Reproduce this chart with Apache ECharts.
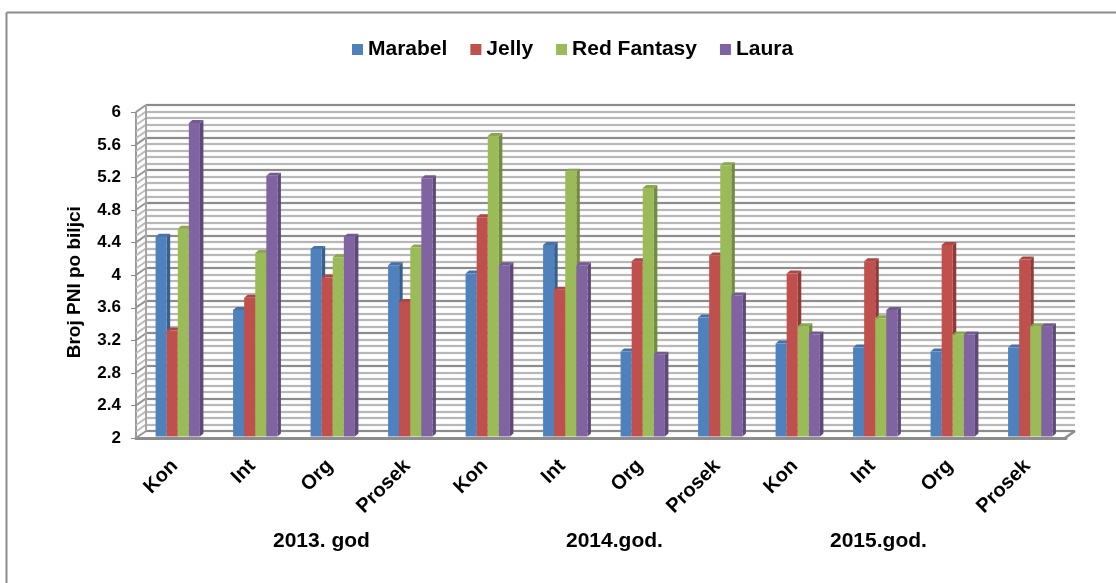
<!DOCTYPE html>
<html><head><meta charset="utf-8">
<style>html,body{margin:0;padding:0;background:#fff}#c{width:1116px;height:583px}</style>
<script src="https://cdn.jsdelivr.net/npm/echarts@6/dist/echarts.min.js"></script>
</head><body><div id="c"></div>
<script>
const categories = ['Kon','Int','Org','Prosek','Kon','Int','Org','Prosek','Kon','Int','Org','Prosek'];
const marabel    = [4.46,3.56,4.31,4.11,4.01,4.36,3.05,3.47,3.15,3.10,3.05,3.10];
const jelly      = [3.31,3.71,3.96,3.66,4.70,3.81,4.16,4.23,4.01,4.16,4.36,4.18];
const redFantasy = [4.56,4.26,4.21,4.33,5.70,5.26,5.06,5.34,3.36,3.46,3.26,3.36];
const laura      = [5.86,5.21,4.46,5.18,4.11,4.11,3.01,3.74,3.26,3.56,3.26,3.36];
const seriesNames = ['Marabel','Jelly','Red Fantasy','Laura'];
const seriesValues = [marabel,jelly,redFantasy,laura];
const frontColors = ['#4F81BD','#C0504D','#9BBB59','#8064A2'];
const sideColors  = ['#385F8E','#8F3A37','#738C42','#5E4A78'];
const capColors   = ['#4573A8','#AD4744','#8BA84F','#735B91'];
const groupLabels = ['2013. god','2014.god.','2015.god.'];
const yMin = 2, yMax = 6, yStep = 0.4, yMinorParts = 5;
const FONT = '"Liberation Sans", Arial, sans-serif';
const DEPTH_X = 10, DEPTH_Y = 7;

const wallLevels = [];
for (let k = 0; k <= (yMax - yMin) / yStep * yMinorParts + 0.001; k++) wallLevels.push([k, k % yMinorParts === 0 ? 1 : 0]);

function wallItem(params, api) {
  const cs = params.coordSys;
  const k = api.value(0), major = api.value(1);
  const y = cs.y + cs.height - k * cs.height / ((yMax - yMin) / yStep * yMinorParts);
  return {type:'line', shape:{x1:cs.x, y1:y, x2:cs.x - DEPTH_X, y2:y + DEPTH_Y},
    style:{stroke: major ? '#969696' : '#bcbcbc', lineWidth:2}};
}
function frameItem(params) {
  const cs = params.coordSys;
  if (params.dataIndex === 0) {
    return {type:'line', shape:{x1:cs.x + cs.width, y1:cs.y + cs.height, x2:cs.x + cs.width - DEPTH_X, y2:cs.y + cs.height + DEPTH_Y},
      style:{stroke:'#8c8c8c', lineWidth:2.5}};
  }
  return {type:'line', shape:{x1:cs.x, y1:cs.y, x2:cs.x, y2:cs.y + cs.height}, style:{stroke:'#a6a6a6', lineWidth:2}};
}
function barItem(s) {
  return function (params, api) {
    const cat = api.value(0), val = api.value(1);
    const c = api.coord([cat, val]), base = api.coord([cat, yMin]);
    const band = api.size([1, 0])[0];
    const w = band * 0.143, dx = 3.5, dy = 3;
    const x = c[0] + 3 + (s - 2) * w, y = c[1] - 1, y0 = base[1] - 1.5;
    return {type:'group', children:[
      {type:'polygon', shape:{points:[[x+w,y],[x+w+dx,y-dy],[x+w+dx,y0-dy],[x+w,y0]]}, style:{fill:sideColors[s]}},
      {type:'polygon', shape:{points:[[x,y],[x+w,y],[x+w+dx,y-dy],[x+dx,y-dy]]}, style:{fill:capColors[s]}},
      {type:'rect', shape:{x:x, y:y, width:w, height:y0-y}, style:{fill:frontColors[s]}}
    ]};
  };
}

const barSeries = seriesNames.map((name, s) => ({
  name, type:'custom', xAxisIndex:0, yAxisIndex:0, z:5,
  itemStyle:{color:frontColors[s]},
  encode:{x:0, y:1},
  data: seriesValues[s].map((v, i) => [i, v]),
  renderItem: barItem(s)
}));

const chart = echarts.init(document.getElementById('c'), null, {renderer:'canvas'});
chart.setOption({
  animation:false,
  backgroundColor:'#fff',
  textStyle:{fontFamily:FONT},
  legend:{
    data:seriesNames, top:34, left:347, icon:'rect', itemWidth:11, itemHeight:11, itemGap:23,
    textStyle:{fontFamily:FONT, fontWeight:'bold', fontSize:21, color:'#000', padding:[0,0,0,0]},
    selectedMode:false
  },
  grid:[
    {left:136, width:930, top:112.5, height:325.5},
    {left:146, width:929, top:105, height:326}
  ],
  xAxis:[
    {type:'category', gridIndex:0, data:categories, boundaryGap:true,
     axisLine:{lineStyle:{color:'#8c8c8c', width:3}}, axisTick:{show:false},
     axisLabel:{rotate:45, interval:0, margin:25, color:'#000', fontFamily:FONT, fontWeight:'bold', fontSize:20}},
    {type:'category', gridIndex:1, data:categories, show:false}
  ],
  yAxis:[
    {type:'value', gridIndex:0, min:yMin, max:yMax, interval:yStep,
     name:'Broj PNI po biljci', nameLocation:'middle', nameGap:52, nameRotate:90,
     nameTextStyle:{fontFamily:FONT, fontWeight:'bold', fontSize:19, color:'#000', padding:[0,14,0,0]},
     axisLine:{show:true, lineStyle:{color:'#9a9a9a', width:2}},
     axisTick:{show:true, length:5, lineStyle:{color:'#8c8c8c', width:1}},
     axisLabel:{margin:15, color:'#000', fontFamily:FONT, fontWeight:'bold', fontSize:17},
     splitLine:{show:false}},
    {type:'value', gridIndex:1, min:yMin, max:yMax, interval:yStep,
     axisLine:{show:false}, axisTick:{show:false}, axisLabel:{show:false},
     splitLine:{show:true, lineStyle:{color:'#8c8c8c', width:2, shadowBlur:2, shadowColor:'#cfcfcf'}},
     minorTick:{show:false, splitNumber:yMinorParts},
     minorSplitLine:{show:true, lineStyle:{color:'#b8b8b8', width:2, shadowBlur:2, shadowColor:'#dcdcdc'}}}
  ],
  series:[
    {type:'custom', xAxisIndex:1, yAxisIndex:1, z:2, silent:true, data:wallLevels, renderItem:wallItem, encode:{}},
    {type:'custom', xAxisIndex:1, yAxisIndex:1, z:2, silent:true, data:[[0],[1]], renderItem:frameItem, encode:{}}
  ].concat(barSeries),
  graphic:[
    {type:'line', shape:{x1:6.5, y1:583, x2:6.5, y2:12.5}, style:{stroke:'#8c8c8c', lineWidth:2}, silent:true},
    {type:'line', shape:{x1:6.5, y1:12.5, x2:1116, y2:12.5}, style:{stroke:'#8c8c8c', lineWidth:2}, silent:true}
  ].concat(groupLabels.map((t, i) => ({
    type:'text', left:[273,566,830][i], top:531,
    style:{text:t, fill:'#000', font:'bold 21px '+FONT}
  })))
});
</script></body></html>
